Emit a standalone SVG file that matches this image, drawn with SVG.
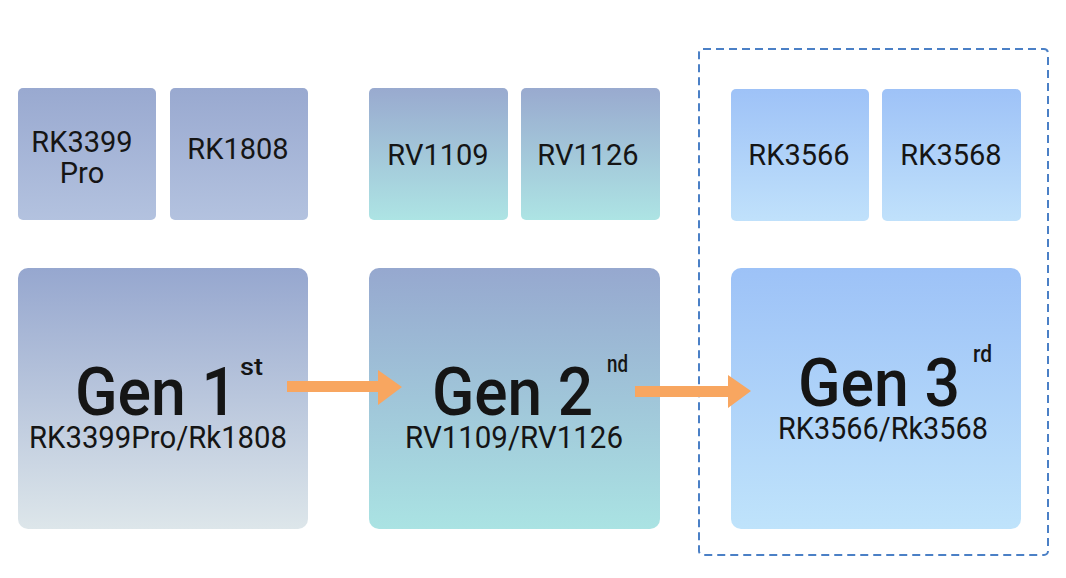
<svg xmlns="http://www.w3.org/2000/svg" width="1066" height="578" viewBox="0 0 1066 578">
<defs>
<linearGradient id="g1b" x1="0" y1="0" x2="0" y2="1"><stop offset="0" stop-color="#96a7cf"/><stop offset="1" stop-color="#dde6ea"/></linearGradient>
<linearGradient id="g1s" x1="0" y1="0" x2="0" y2="1"><stop offset="0" stop-color="#99a9d0"/><stop offset="1" stop-color="#b3c2df"/></linearGradient>
<linearGradient id="g2b" x1="0" y1="0" x2="0" y2="1"><stop offset="0" stop-color="#96a8cf"/><stop offset="1" stop-color="#aae3e3"/></linearGradient>
<linearGradient id="g2s" x1="0" y1="0" x2="0" y2="1"><stop offset="0" stop-color="#99aacf"/><stop offset="1" stop-color="#ade4e4"/></linearGradient>
<linearGradient id="g3b" x1="0" y1="0" x2="0" y2="1"><stop offset="0" stop-color="#9dc2f7"/><stop offset="1" stop-color="#bfe3fb"/></linearGradient>
<linearGradient id="g3s" x1="0" y1="0" x2="0" y2="1"><stop offset="0" stop-color="#9ec2f7"/><stop offset="1" stop-color="#c0e1fb"/></linearGradient>
</defs>
<style>
text{font-family:Roboto,"Liberation Sans",sans-serif;fill:#151515}
.chip{font-size:29px;text-anchor:middle}
.gen{font-size:67px;font-weight:500}
.sup{font-size:23px;font-weight:500}
.sub{font-size:31px}
.arrow{fill:#f8a660}
</style>
<rect x="0" y="0" width="1066" height="578" fill="#ffffff"/>
<rect id="gen3-frame" x="699" y="49" width="349" height="506" rx="4" fill="none" stroke="#4b80c6" stroke-width="2" stroke-dasharray="8 5"/>
<g id="rk3399pro"><rect x="18" y="88" width="138" height="132" rx="5" fill="url(#g1s)"/><text class="chip" x="82" y="152">RK3399</text><text class="chip" x="82" y="183">Pro</text></g>
<g id="rk1808"><rect x="170" y="88" width="138" height="132" rx="5" fill="url(#g1s)"/><text class="chip" x="238" y="159">RK1808</text></g>
<g id="rv1109"><rect x="369" y="88" width="139" height="132" rx="5" fill="url(#g2s)"/><text class="chip" x="438" y="165">RV1109</text></g>
<g id="rv1126"><rect x="521" y="88" width="139" height="132" rx="5" fill="url(#g2s)"/><text class="chip" x="588" y="165">RV1126</text></g>
<g id="rk3566"><rect x="731" y="89" width="138" height="132" rx="5" fill="url(#g3s)"/><text class="chip" x="799" y="165">RK3566</text></g>
<g id="rk3568"><rect x="882" y="89" width="139" height="132" rx="5" fill="url(#g3s)"/><text class="chip" x="951" y="165">RK3568</text></g>
<g id="gen1"><rect x="18" y="268" width="290" height="261" rx="10" fill="url(#g1b)"/><text class="gen" x="75" y="415" textLength="162" lengthAdjust="spacingAndGlyphs">Gen 1</text><text class="sup" x="240" y="375" textLength="23" lengthAdjust="spacingAndGlyphs">st</text><text class="sub" x="29" y="448" textLength="258" lengthAdjust="spacingAndGlyphs">RK3399Pro/Rk1808</text></g>
<g id="gen2"><rect x="369" y="268" width="291" height="261" rx="10" fill="url(#g2b)"/><text class="gen" x="432" y="415" textLength="161" lengthAdjust="spacingAndGlyphs">Gen 2</text><text class="sup" x="607" y="372" textLength="21" lengthAdjust="spacingAndGlyphs">nd</text><text class="sub" x="405" y="448" textLength="218" lengthAdjust="spacingAndGlyphs">RV1109/RV1126</text></g>
<g id="gen3"><rect x="731" y="268" width="290" height="261" rx="10" fill="url(#g3b)"/><text class="gen" x="798" y="406" textLength="162" lengthAdjust="spacingAndGlyphs">Gen 3</text><text class="sup" x="973" y="362" textLength="19" lengthAdjust="spacingAndGlyphs">rd</text><text class="sub" x="778" y="439" textLength="210" lengthAdjust="spacingAndGlyphs">RK3566/Rk3568</text></g>
<g id="connectors">
<path class="arrow" d="M287,381 L378,381 L378,370 L402,387 L378,405 L378,392 L287,392 Z"/>
<path class="arrow" d="M635,386 L728,386 L728,375 L751,391 L728,408 L728,397 L635,397 Z"/>
</g>
</svg>
